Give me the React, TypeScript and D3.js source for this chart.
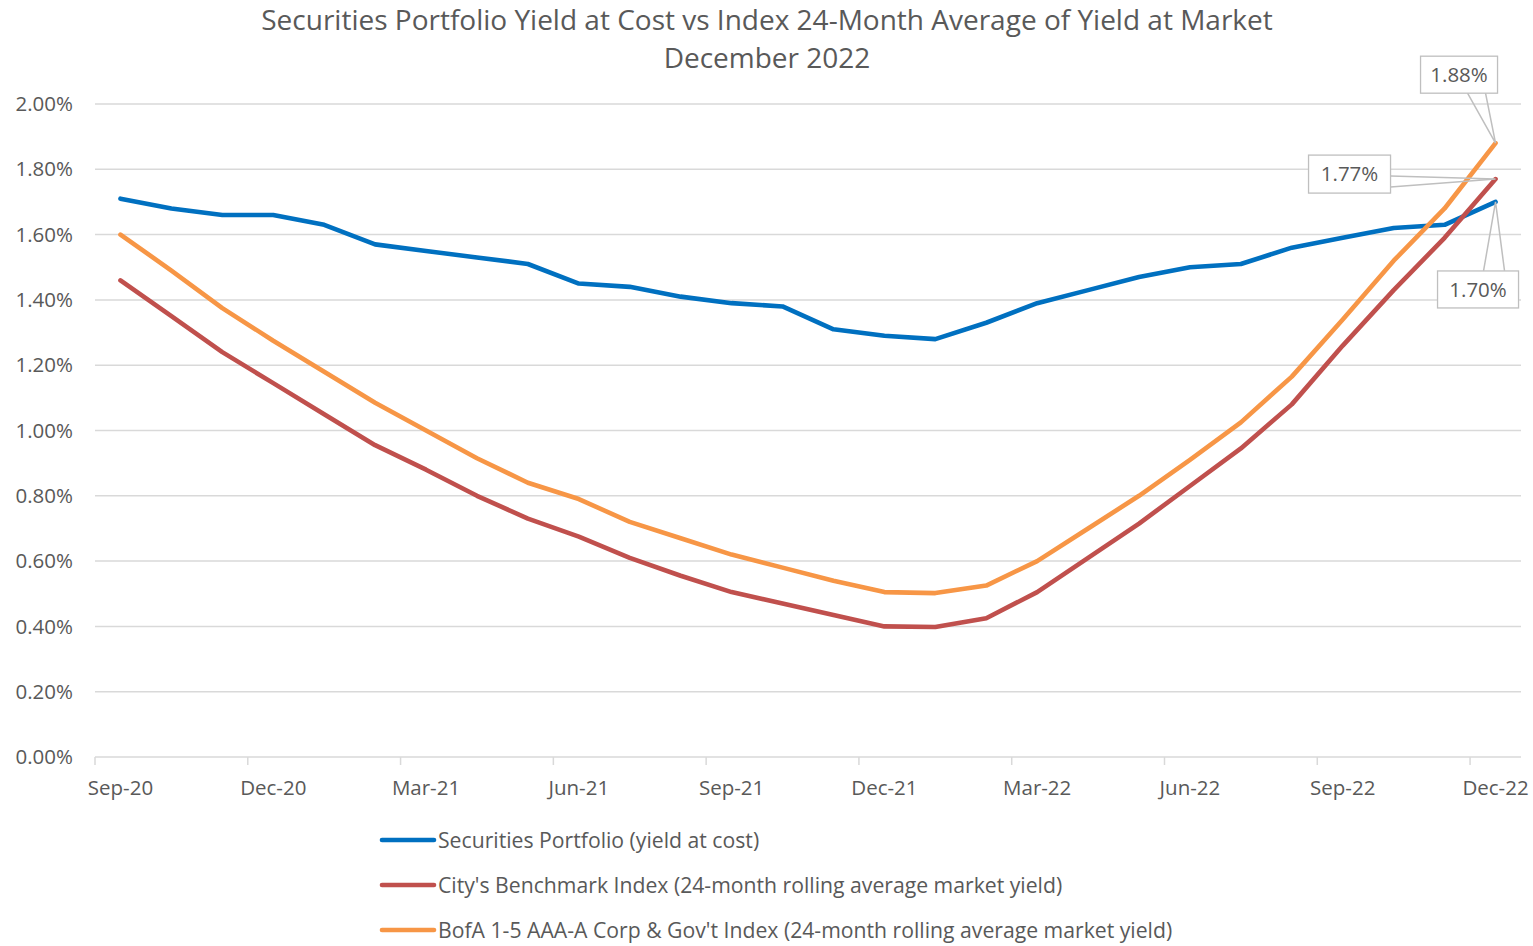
import React from "react";
import * as d3 from "d3";

const months = [
  "Sep-20","Oct-20","Nov-20","Dec-20","Jan-21","Feb-21","Mar-21","Apr-21","May-21","Jun-21",
  "Jul-21","Aug-21","Sep-21","Oct-21","Nov-21","Dec-21","Jan-22","Feb-22","Mar-22","Apr-22",
  "May-22","Jun-22","Jul-22","Aug-22","Sep-22","Oct-22","Nov-22","Dec-22",
];

const portfolio = [
  1.71,1.68,1.66,1.66,1.63,1.57,1.55,1.53,1.51,1.45,
  1.44,1.41,1.39,1.38,1.31,1.29,1.28,1.33,1.39,1.43,
  1.47,1.50,1.51,1.56,1.59,1.62,1.63,1.70,
];

const cityIndex = [
  1.46,1.35,1.24,1.145,1.05,0.955,0.88,0.80,0.73,0.675,
  0.61,0.555,0.505,0.47,0.435,0.40,0.398,0.425,0.505,0.61,
  0.715,0.83,0.945,1.08,1.26,1.43,1.59,1.77,
];

const bofaIndex = [
  1.60,1.49,1.375,1.275,1.18,1.085,1.0,0.915,0.84,0.79,
  0.72,0.67,0.62,0.58,0.54,0.505,0.502,0.525,0.60,0.70,
  0.80,0.91,1.025,1.165,1.34,1.52,1.68,1.88,
];

const yTicks = [0, 0.2, 0.4, 0.6, 0.8, 1.0, 1.2, 1.4, 1.6, 1.8, 2.0];

const seriesNames = [
  "Securities Portfolio (yield at cost)",
  "City's Benchmark Index (24-month rolling average market yield)",
  "BofA 1-5 AAA-A Corp & Gov't Index (24-month rolling average market yield)",
];
const seriesColors = ["#0070C0", "#C0504D", "#F79646"];

const FONT = "'Open Sans', sans-serif";
const TXT = "#595959";

export default function App() {
  const W = 1533, H = 946;
  const left = 95, right = 1521, top = 104, bottom = 757;

  const x = d3.scalePoint<string>().domain(months).range([left, right]).padding(0.5);
  const step = x.step();
  const y = d3.scaleLinear().domain([0, 2]).range([bottom, top]);

  const allSeries = [portfolio, cityIndex, bofaIndex];
  const line = d3
    .line<number>()
    .x((_, i) => x(months[i]) as number)
    .y((d) => y(d));

  const tickIdx = months.map((_, i) => i).filter((i) => i % 3 === 0);

  const last = months.length - 1;
  const lx = x(months[last]) as number;
  const pY = y(portfolio[last]);
  const cY = y(cityIndex[last]);
  const bY = y(bofaIndex[last]);
  const fmt = (v: number) => v.toFixed(2) + "%";

  const box = (bx: number, by: number, bw: number, bh: number, text: string) => (
    <g>
      <rect x={bx} y={by} width={bw} height={bh} fill="#fff" stroke="#BFBFBF" strokeWidth={1.3} />
      <text x={bx + bw / 2} y={by + bh / 2} dy="0.35em" textAnchor="middle" fontSize={20.5} fill={TXT} fontFamily={FONT}>
        {text}
      </text>
    </g>
  );

  return (
    <svg width={W} height={H} style={{ position: "absolute", left: 0, top: 0, background: "#fff" }}>
      <rect width={W} height={H} fill="#fff" />
      <text x={767} y={20} dy="0.35em" textAnchor="middle" fontSize={28} fill={TXT} fontFamily={FONT}>
        Securities Portfolio Yield at Cost vs Index 24-Month Average of Yield at Market
      </text>
      <text x={767} y={58} dy="0.35em" textAnchor="middle" fontSize={28} fill={TXT} fontFamily={FONT}>
        December 2022
      </text>

      {yTicks.map((t) => (
        <g key={t}>
          {t > 0 && <line x1={left} x2={right} y1={y(t)} y2={y(t)} stroke="#D9D9D9" strokeWidth={1.5} />}
          <text x={73} y={y(t)} dy="0.35em" textAnchor="end" fontSize={20.5} fill={TXT} fontFamily={FONT}>
            {t.toFixed(2) + "%"}
          </text>
        </g>
      ))}
      <line x1={left} x2={right} y1={bottom} y2={bottom} stroke="#D9D9D9" strokeWidth={1.5} />
      {tickIdx.map((i) => {
        const tx = (x(months[i]) as number) - step / 2;
        return (
          <g key={i}>
            <line x1={tx} x2={tx} y1={bottom} y2={bottom + 8} stroke="#D9D9D9" strokeWidth={1.5} />
            <text x={x(months[i]) as number} y={788} dy="0.35em" textAnchor="middle" fontSize={20.5} fill={TXT} fontFamily={FONT}>
              {months[i]}
            </text>
          </g>
        );
      })}

      {[0, 2, 1].map((k) => (
        <path key={k} d={line(allSeries[k]) || ""} fill="none" stroke={seriesColors[k]} strokeWidth={4.6} strokeLinejoin="round" strokeLinecap="round" />
      ))}

      {/* data label callouts */}
      <polyline points={`${lx - 28},${bY - 50} ${lx},${bY} ${lx - 10},${bY - 50}`} fill="none" stroke="#BFBFBF" strokeWidth={1.5} />
      {box(lx - 75, bY - 87, 77, 37, fmt(bofaIndex[last]))}
      <polyline points={`${lx - 105},${cY - 3} ${lx},${cY} ${lx - 105},${cY + 8}`} fill="none" stroke="#BFBFBF" strokeWidth={1.5} />
      {box(lx - 187, cY - 24, 82, 38, fmt(cityIndex[last]))}
      <polyline points={`${lx - 12},${pY + 69} ${lx},${pY} ${lx + 9},${pY + 69}`} fill="none" stroke="#BFBFBF" strokeWidth={1.5} />
      {box(lx - 58, pY + 69, 81, 37, fmt(portfolio[last]))}

      {seriesNames.map((name, k) => (
        <g key={k} transform={`translate(0, ${840 + k * 45})`}>
          <line x1={382} x2={434} y1={0} y2={0} stroke={seriesColors[k]} strokeWidth={4.6} strokeLinecap="round" />
          <text x={438} y={1} dy="0.35em" fontSize={21.2} fill={TXT} fontFamily={FONT}>
            {name}
          </text>
        </g>
      ))}
    </svg>
  );
}
